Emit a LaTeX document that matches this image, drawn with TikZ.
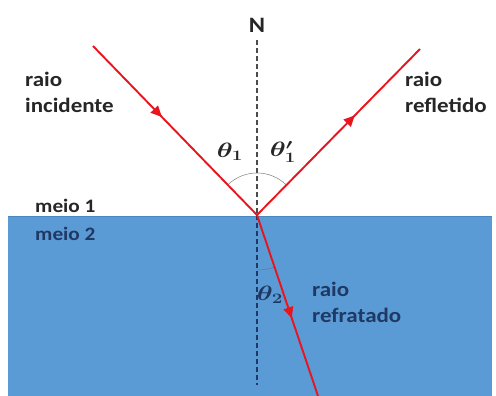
\documentclass[tikz,border=0pt]{standalone}
\usepackage{fontspec}
\setmainfont{Carlito}[FakeStretch=1.12]
\usetikzlibrary{arrows.meta,decorations.markings}
\definecolor{rayred}{HTML}{E8141E}
\definecolor{water}{HTML}{5B9BD5}
\definecolor{waterline}{HTML}{4A86C0}
\definecolor{airtext}{HTML}{262626}
\definecolor{navy}{HTML}{1F3864}
\newcommand{\wideth}[1]{\scalebox{1.3}[1]{\boldmath$#1$}}
\begin{document}
\begin{tikzpicture}[x=1pt,y=-1pt,
  ray/.style={draw=rayred, line width=1.9pt},
  midarrow/.style={postaction={decorate},
    decoration={markings, mark=at position #1 with {\arrow[rayred]{Triangle[length=11pt,width=10pt]}}}},
  normal/.style={line width=1.3pt, dash pattern=on 5pt off 3pt},
  anglearc/.style={draw=gray, line width=0.5pt},
  lbl/.style={font=\bfseries\fontsize{20.5}{26}\selectfont, align=left, anchor=north west, inner sep=0pt},
  mlbl/.style={font=\bfseries\fontsize{19}{24}\selectfont, anchor=north west, inner sep=0pt},
  sym/.style={inner sep=0pt, font=\fontsize{21}{24}\selectfont}]
\useasboundingbox (0,0) rectangle (496,396);
\fill[white] (0,0) rectangle (496,396);
\fill[water] (8,216) rectangle (492,396);
\draw[waterline, line width=1pt] (8,216) -- (492,216);

\coordinate (H) at (257,215);
\coordinate (I) at (93,46);
\coordinate (R) at (420,49);
\coordinate (T) at (318,396);
\coordinate (Ntop) at (257,40);
\coordinate (Nbot) at (257,385);

% normal
\draw[normal, draw=gray!60!black] (Ntop) -- (H);
\draw[normal, draw=navy] (H) -- (Nbot);

% angle arcs
\draw[anglearc] (H) ++(-134:42) arc[start angle=-134, end angle=-45.5, radius=42];
\draw[anglearc, draw=navy!70] (H) ++(71.4:55) arc[start angle=71.4, end angle=90, radius=55];

% rays
\draw[ray, midarrow=0.42] (I) -- (H);
\draw[ray, midarrow=0.6] (H) -- (R);
\draw[ray, midarrow=0.57] (H) -- (T);

% labels
\node[font=\bfseries\fontsize{22}{22}\selectfont, text=airtext, inner sep=0pt] (N) at (257,25) {N};
\node[lbl, text=airtext] (inc) at (25,71.5) {raio\\incidente};
\node[lbl, text=airtext] (refl) at (405,71.5) {raio\\refletido};
\node[lbl, text=navy] (refr) at (312,281.5) {raio\\refratado};
\node[mlbl, text=airtext] (m1) at (35,198.5) {meio 1};
\node[mlbl, text=navy] (m2) at (35,226.5) {meio 2};
\node[sym, text=airtext] (t1) at (230,152) {\wideth{\theta_1}};
\node[sym, text=airtext] (t1p) at (283,152) {\wideth{\theta'_1}};
\node[sym, text=navy] (t2) at (270,295) {\wideth{\theta_2}};
\end{tikzpicture}
\end{document}
